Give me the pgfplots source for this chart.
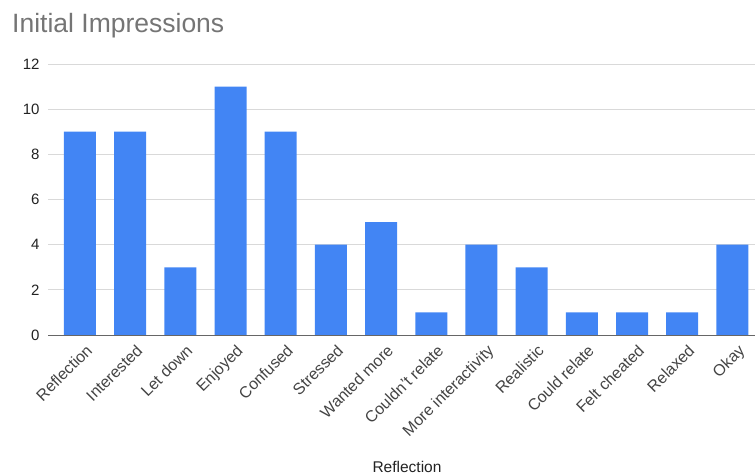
\documentclass[border=0pt]{standalone}
\usepackage{pgfplots}
\pgfplotsset{compat=1.18}
\usepackage{fontspec}
\setmainfont{Liberation Sans}
\definecolor{barblue}{HTML}{4285F4}
\definecolor{gridgray}{HTML}{D9D9D9}
\definecolor{titlegray}{HTML}{757575}
\definecolor{ticklab}{HTML}{222222}
\definecolor{xlab}{HTML}{444444}
\begin{document}
\begin{tikzpicture}
\useasboundingbox (-48bp,-140bp) rectangle (707bp,335bp);
\begin{axis}[
  at={(0,0)}, anchor=south west,
  scale only axis,
  width=707bp, height=271bp,
  xmin=-0.637, xmax=13.45,
  ymin=0, ymax=12,
  ytick={0,2,4,6,8,10,12},
  xtick={0,1,2,3,4,5,6,7,8,9,10,11,12,13},
  xticklabels={Reflection,Interested,Let down,Enjoyed,Confused,Stressed,Wanted more,Couldn't relate,More interactivity,Realistic,Could relate,Felt cheated,Relaxed,Okay},
  axis line style={draw=none},
  major tick length=0pt,
  ymajorgrids,
  grid style={gridgray, line width=0.8pt},
  /pgf/number format/assume math mode=true,
  yticklabel style={font=\fontsize{15bp}{18bp}\selectfont, text=ticklab, xshift=-5bp},
  xticklabel style={font=\fontsize{16bp}{19bp}\selectfont, text=xlab, rotate=45, anchor=north east, yshift=-6bp, xshift=1bp},
  clip=false,
]
\addplot[ybar, bar width=32bp, fill=barblue, draw=none] coordinates {
  (0,9) (1,9) (2,3) (3,11) (4,9) (5,4) (6,5) (7,1) (8,4) (9,3) (10,1) (11,1) (12,1) (13,4)
};
\draw[color=gray!80!black, line width=0.9pt] (axis cs:-0.637,0) -- (axis cs:13.45,0);
\end{axis}
\node[anchor=base west, text=titlegray, font=\fontsize{26.5bp}{30bp}\selectfont, inner sep=0pt] at (-36bp,302bp) {Initial Impressions};
\node[anchor=base, text=ticklab, font=\fontsize{15.5bp}{18bp}\selectfont, inner sep=0pt] at (359bp,-137bp) {Reflection};
\end{tikzpicture}
\end{document}
